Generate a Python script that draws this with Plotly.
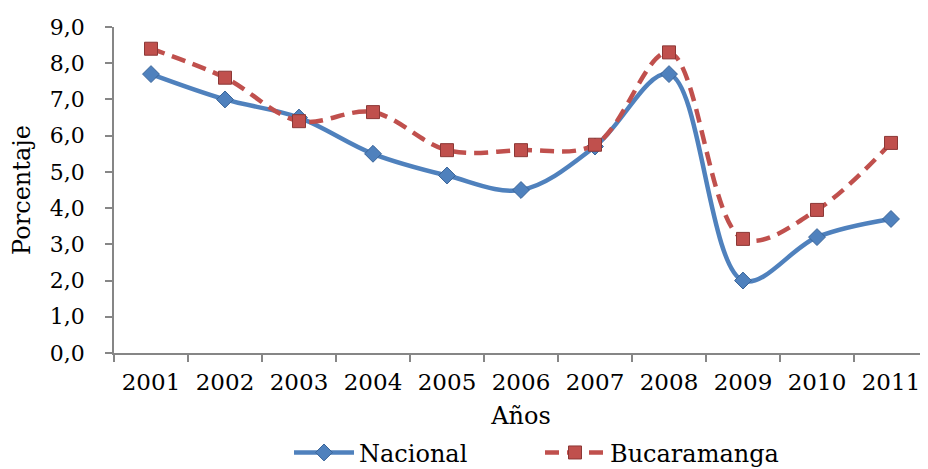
import plotly.graph_objects as go

years = ["2001", "2002", "2003", "2004", "2005", "2006", "2007", "2008", "2009", "2010", "2011"]
nacional = [7.7, 7.0, 6.5, 5.5, 4.9, 4.5, 5.7, 7.7, 2.0, 3.2, 3.7]
bucaramanga = [8.4, 7.6, 6.4, 6.65, 5.6, 5.6, 5.75, 8.3, 3.15, 3.95, 5.8]
y_ticks = [0, 1, 2, 3, 4, 5, 6, 7, 8, 9]

FONT = "DejaVu Serif"

fig = go.Figure()
fig.add_trace(go.Scatter(
    x=years, y=nacional, name="Nacional", mode="lines+markers",
    line=dict(color="#4F81BD", width=4.5, shape="spline", smoothing=1.0),
    marker=dict(symbol="diamond", size=13, color="#4F81BD",
                line=dict(color="#3A6599", width=1)),
))
fig.add_trace(go.Scatter(
    x=years, y=bucaramanga, name="Bucaramanga", mode="lines+markers",
    line=dict(color="#C0504D", width=4.5, dash="14px,8px", shape="spline", smoothing=1.0),
    marker=dict(symbol="square", size=13, color="#C0504D",
                line=dict(color="#8C3836", width=1)),
))

fig.update_layout(
    width=920, height=461,
    margin=dict(l=106, r=0, t=19, b=116),
    paper_bgcolor="white", plot_bgcolor="white",
    separators=",.",
    font=dict(family=FONT, size=23, color="black"),
    showlegend=True,
    legend=dict(orientation="h", x=0.215, xanchor="left",
                yref="container", y=0.035, yanchor="middle",
                font=dict(family=FONT, size=24), itemwidth=60, entrywidth=176,
                bgcolor="rgba(0,0,0,0)"),
    xaxis=dict(
        type="category", range=[-0.5, 10.5], automargin=False,
        showline=True, linecolor="#868686", linewidth=1.5,
        ticks="outside", tickson="boundaries", ticklen=7, tickcolor="#868686", tickwidth=1.5,
        ticklabelstandoff=8,
        showgrid=False, tickfont=dict(family=FONT, size=23),
        title=dict(text="Años", font=dict(family=FONT, size=24), standoff=15),
    ),
    yaxis=dict(
        range=[0, 9], tickvals=y_ticks, tickformat=".1f", automargin=False,
        showline=True, linecolor="#868686", linewidth=1.5,
        ticks="outside", ticklen=7, tickcolor="#868686", tickwidth=1.5,
        ticklabelstandoff=16,
        showgrid=False, zeroline=False, tickfont=dict(family=FONT, size=22),
        title=dict(text="Porcentaje", font=dict(family=FONT, size=24), standoff=12),
    ),
)

fig.write_html("out.html")
